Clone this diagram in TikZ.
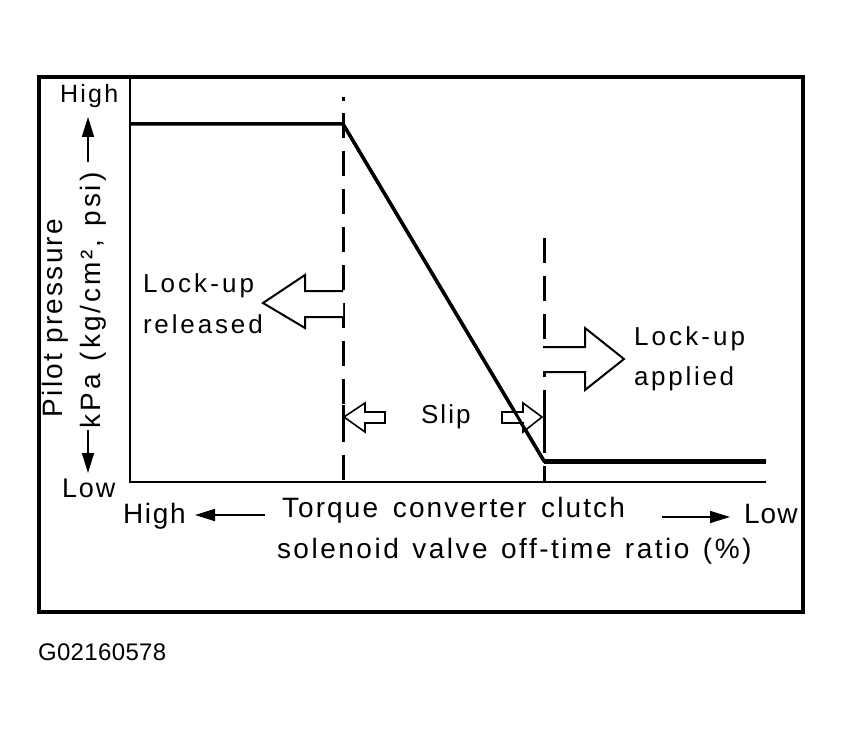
\documentclass[tikz,border=0pt]{standalone}
\usepackage{fontspec}
\setmainfont{Liberation Sans}
\usetikzlibrary{arrows.meta}
\newcommand\ft[2]{\fontsize{#1}{#1}\selectfont\addfontfeatures{LetterSpace=#2}}
\newcommand\wsp[1]{\spaceskip=#1\fontdimen2\font\relax}
\begin{document}
\begin{tikzpicture}[x=1pt,y=-1pt,
  lbl/.style={anchor=base west, inner sep=0pt, outer sep=0pt},
  frame/.style={line width=4.5pt},
  axis/.style={line width=2.5pt},
  curve/.style={line width=3.5pt, line join=miter},
  guide/.style={line width=3pt, dash pattern=on 25pt off 13pt},
  blockarrow/.style={line width=2pt, fill=white, line join=miter},
  smallarrow/.style={line width=1.6pt, fill=white, line join=miter},
  axarrow/.style={line width=1.6pt, -{Triangle[length=20pt,width=12pt]}},
]
\useasboundingbox (0,0) rectangle (842,738);
\fill[white] (0,0) rectangle (842,738);
% frame
\draw[frame] (39,77) rectangle (803,612);
% axes
\coordinate (O) at (130,482);
\coordinate (Ytop) at (130,77);
\coordinate (Xend) at (766,482);
\draw[axis] (Ytop) -- (O) -- (Xend);
% guides
\coordinate (D1dot) at (343,97);
\coordinate (D1dotb) at (343,101);
\coordinate (D1top) at (343,113);
\coordinate (D1bot) at (343,482);
\coordinate (D2top) at (544,238);
\coordinate (D2bot) at (544,482);
\draw[line width=3pt] (D1dot) -- (D1dotb);
\draw[guide] (D1top) -- (D1bot);
\draw[guide] (D2top) -- (D2bot);
% characteristic
\coordinate (H0) at (130,124);
\coordinate (H1) at (343,124);
\coordinate (L0) at (544,461);
\coordinate (L1) at (766,461);
\draw[curve] (H0) -- (H1) -- (L0) -- (L1);
\draw[line width=5pt] (L0) -- (L1);
% block arrows
\draw[blockarrow] (343,291) -- (305,291) -- (305,275) -- (263,303) -- (305,328) -- (305,317) -- (343,317);
\draw[blockarrow] (543,347) -- (585,347) -- (585,328) -- (624,359) -- (585,390) -- (585,372) -- (543,372);
\draw[smallarrow] (385,412) -- (365,412) -- (365,403) -- (344,417) -- (365,432) -- (365,423) -- (385,423) -- cycle;
\draw[smallarrow] (502,412) -- (523,412) -- (523,403) -- (542,417) -- (523,432) -- (523,423) -- (502,423) -- cycle;
\draw[line width=3pt] (343,405) -- (343,430);
\draw[line width=3pt] (544,405) -- (544,430);
\draw[line width=3pt] (H1) -- (L0);
% axis arrows
\coordinate (ua0) at (88,162);
\coordinate (ua1) at (88,117);
\coordinate (da0) at (88,430);
\coordinate (da1) at (88,473);
\coordinate (la0) at (265,515);
\coordinate (la1) at (195,515);
\coordinate (ra0) at (662,517);
\coordinate (ra1) at (730,517);
\draw[axarrow] (ua0) -- (ua1);
\draw[axarrow] (da0) -- (da1);
\draw[axarrow] (la0) -- (la1);
\draw[axarrow] (ra0) -- (ra1);
% texts
\node[lbl] (yhigh) at (60,103) {\ft{25}{9}High};
\node[lbl] (ylow) at (62,497) {\ft{27}{7}Low};
\node[lbl] (xhigh) at (123,523) {\ft{28}{6}High};
\node[lbl] (xlow) at (744,523) {\ft{28}{4}Low};
\node[lbl] (t1) at (282,517) {\ft{28}{7.5}\wsp{1.5}Torque converter clutch};
\node[lbl] (t2) at (277,558) {\ft{28}{9}\wsp{1.3}solenoid valve off-time ratio (\%)};
\node[lbl] (rel1) at (143,292) {\ft{26}{12}Lock-up};
\node[lbl] (rel2) at (143,333) {\ft{26}{11}released};
\node[lbl] (app1) at (634,345) {\ft{26}{12}Lock-up};
\node[lbl] (app2) at (634,385) {\ft{26}{10.5}applied};
\node[lbl] (slip) at (421,423) {\ft{26}{8}Slip};
\node[lbl] (code) at (38,660) {\ft{24}{1.5}G02160578};
\node[lbl, rotate=90] (ylab1) at (62,417) {\ft{28}{8}Pilot pressure};
\node[lbl, rotate=90] (ylab2) at (100,428) {\ft{28}{10.5}\wsp{1.2}kPa (kg/cm², psi)};
\end{tikzpicture}
\end{document}
